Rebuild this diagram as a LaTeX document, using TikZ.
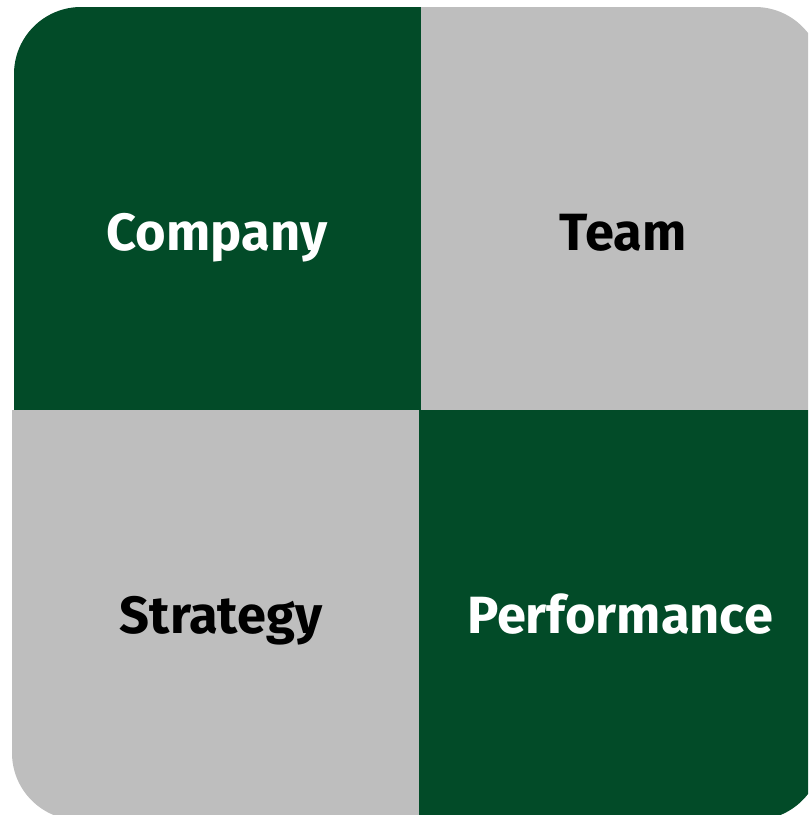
\documentclass[tikz,border=0pt]{standalone}
\usepackage{fontspec}
\setmainfont{Fira Sans}
\usepackage{tikz}

\definecolor{quadgreen}{RGB}{2,75,40}
\definecolor{quadgray}{RGB}{190,190,190}

\begin{document}
\begin{tikzpicture}[x=0.01cm, y=-0.01cm,
	every node/.style={font=\fontsize{14.9}{18}\selectfont\bfseries},
	lbl/.style={anchor=base, inner sep=0pt},
	dark/.style={fill=quadgreen},
	light/.style={fill=quadgray}]
	\clip (0,0) rectangle (808,815);
	% four quadrants, outer corner of each one rounded
	\fill[dark] (14,410) [rounded corners=0.67cm] -- (14,7) [sharp corners] -- (421,7) -- (421,410) -- cycle;
	\fill[light] (421,7) [rounded corners=0.67cm] -- (822,7) [sharp corners] -- (822,410) -- (421,410) -- cycle;
	\fill[light] (12,410) -- (419,410) -- (419,820) [rounded corners=0.67cm] -- (12,820) [sharp corners] -- cycle;
	\fill[dark] (419,410) -- (822,410) [rounded corners=0.67cm] -- (822,820) [sharp corners] -- (419,820) -- cycle;
	% labels
	\node[lbl, text=white] (company) at (217,250) {Company};
	\node[lbl, text=black] (team) at (623,250) {Team};
	\node[lbl, text=black] (strategy) at (221,633) {Strategy};
	\node[lbl, text=white] (performance) at (620,633) {Performance};
\end{tikzpicture}
\end{document}
